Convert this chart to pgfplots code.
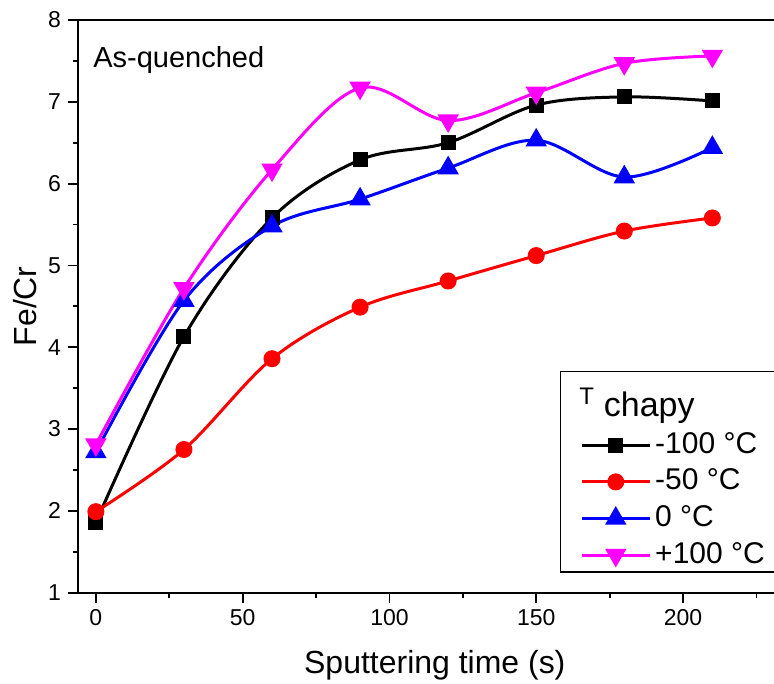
\documentclass[border=0pt]{standalone}
\usepackage{fontspec}
\setmainfont{Liberation Sans}
\usepackage{pgfplots}
\pgfplotsset{compat=1.18}
\definecolor{cblack}{RGB}{0,0,0}
\definecolor{cred}{RGB}{255,0,0}
\definecolor{cblue}{RGB}{0,0,255}
\definecolor{cmag}{RGB}{255,0,255}

\begin{document}
\begin{tikzpicture}
\begin{axis}[
    scale only axis,
    width=357pt, height=286.5pt,
    xmin=-6.1, xmax=237, ymin=1, ymax=8,
    xtick={0,50,...,200}, minor xtick={25,75,...,225},
    ytick={1,...,8}, minor y tick num=1,
    tick align=outside, xtick pos=bottom, ytick pos=left,
    major tick length=5pt, minor tick length=2.5pt,
    axis line style={line width=0.9pt},
    tick style={line width=0.9pt, black},
    tick label style={font=\fontsize{11.5}{13}\selectfont},
    /pgf/number format/assume math mode=true,
    xlabel={Sputtering time (s)}, ylabel={Fe/Cr},
    label style={font=\fontsize{16}{19}\selectfont},
    xlabel style={at={(axis description cs:0.5,0)}, anchor=center, yshift=-36.5pt},
    ylabel style={at={(axis description cs:-0.0742,0.5)}, anchor=center},
    legend style={at={(0.675,0.035)}, anchor=south west, draw=black, line width=0.6pt,
        font=\fontsize{15}{18}\selectfont, inner xsep=10pt, inner ysep=0.5pt,
        row sep=2.3pt, column sep=1pt,
        nodes={inner sep=1pt, text height=11pt, text depth=3pt}},
    legend cell align=left,
    legend image code/.code={\draw[mark repeat=2,mark phase=2] plot coordinates {(0pt,0pt) (17pt,0pt) (34pt,0pt)};},
    every axis plot/.append style={line width=1.5pt, smooth, tension=0.55},
]
\addlegendimage{empty legend}
\addlegendentry[text height=21pt]{\hspace*{-38pt}\raisebox{6pt}{\fontsize{12}{14}\selectfont T}\hspace{5pt}{\fontsize{17}{20}\selectfont chapy}}

\addplot[cblack, mark=square*, mark size=3pt, mark options={solid}] coordinates {
    (0,1.86) (30,4.13) (60,5.58) (90,6.29) (120,6.50) (150,6.96) (180,7.06) (210,7.01)
};
\addlegendentry{-100 °C}
\addplot[cred, mark=*, mark size=3.5pt, mark options={solid}] coordinates {
    (0,1.99) (30,2.75) (60,3.86) (90,4.49) (120,4.81) (150,5.12) (180,5.42) (210,5.58)
};
\addlegendentry{-50 °C}
\addplot[cblue, mark=triangle*, mark size=4.7pt, mark options={solid}] coordinates {
    (0,2.72) (30,4.57) (60,5.48) (90,5.81) (120,6.19) (150,6.53) (180,6.08) (210,6.44)
};
\addlegendentry{0 °C}
\addplot[cmag, mark=triangle*, mark size=4.7pt, mark options={solid, rotate=180}] coordinates {
    (0,2.81) (30,4.72) (60,6.17) (90,7.17) (120,6.77) (150,7.11) (180,7.47) (210,7.56)
};
\addlegendentry{+100 °C}

\node[anchor=base west, inner sep=0, font=\fontsize{14.5}{17}\selectfont]
    at ([xshift=7.5pt, yshift=-24pt]rel axis cs:0,1) {As-quenched};

\coordinate (bbl) at (rel axis cs:0,0);
\coordinate (btr) at (axis cs:231,8);
\end{axis}
\pgfresetboundingbox
\path ([xshift=-39pt, yshift=-45.5pt]bbl) rectangle ([yshift=10pt]btr);
\end{tikzpicture}
\end{document}
